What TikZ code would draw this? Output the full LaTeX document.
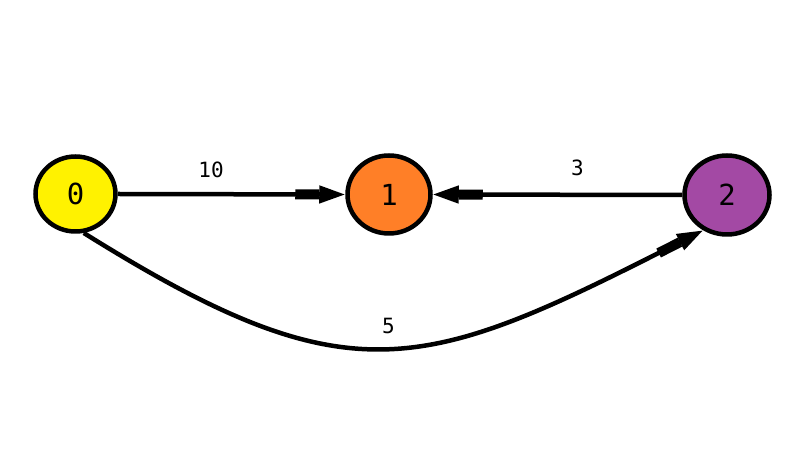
\documentclass[tikz,border=0pt]{standalone}
\usepackage{fontspec}
\newfontfamily\dmono{DejaVu Sans Mono}
\usetikzlibrary{arrows.meta,shapes.geometric}
\definecolor{cyellow}{HTML}{FFF200}
\definecolor{corange}{HTML}{FF7F27}
\definecolor{cpurple}{HTML}{A349A4}
\tikzset{
  vertex/.style={ellipse,draw=black,line width=4.5pt,inner sep=0pt,font=\dmono\fontsize{29}{29}\selectfont},
  edge/.style={line width=4.5pt,draw=black,-{Rectangle[length=24pt,width=10pt,sep=0pt]Triangle[length=26pt,width=17pt]}},
  wlabel/.style={font=\dmono\fontsize{21}{21}\selectfont,inner sep=0pt}
}
\begin{document}
\begin{tikzpicture}[x=1pt,y=1pt]
\useasboundingbox[fill=white] (0,0) rectangle (808,460);
\node[vertex,fill=cyellow,minimum width=80pt,minimum height=75pt] (n0) at (75.5,266) {0};
\node[vertex,fill=corange,minimum width=83pt,minimum height=78pt] (n1) at (389,265.5) {1};
\node[vertex,fill=cpurple,minimum width=85pt,minimum height=79pt] (n2) at (727,265) {2};
\draw[edge] (n0.east) -- node[wlabel,pos=0.41,yshift=24pt] {10} (n1.west);
\draw[edge] (n2.west) -- node[wlabel,pos=0.42,yshift=27pt] {3} (n1.east);
\draw[edge] (n0.-78) to[out=-32,in=-153,looseness=1.3] node[wlabel,pos=0.5,yshift=22pt] {5} (n2.236);
\end{tikzpicture}
\end{document}
